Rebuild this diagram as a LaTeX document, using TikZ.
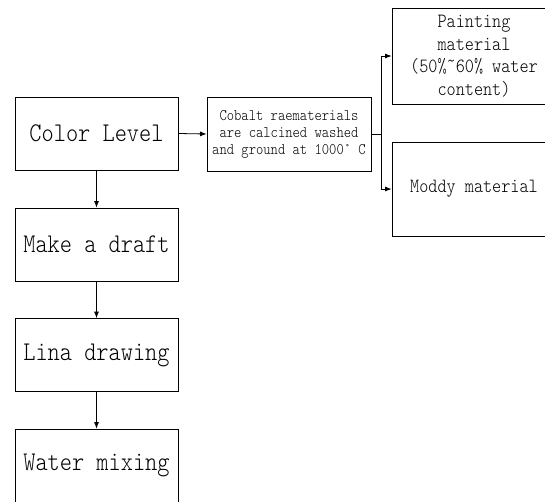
\documentclass[tikz,border=0pt]{standalone}
\usepackage{fontspec}
\newfontfamily\mono{lmmonolt10-regular.otf}[FakeStretch=0.86]
\usetikzlibrary{arrows.meta}
\tikzset{
  box/.style={draw, line width=0.8pt, inner sep=0pt, align=center, font=\mono},
  bigbox/.style={box, minimum width=163pt, minimum height=73pt, font=\mono\fontsize{27}{29}\selectfont},
  midbox/.style={box, minimum width=164pt, minimum height=74pt, font=\mono\fontsize{16.2}{17}\selectfont},
  sidebox/.style={box, minimum width=164pt, font=\mono\fontsize{20.2}{22.6}\selectfont},
  arr/.style={line width=0.8pt, -{Latex[length=6.5pt,width=5pt]}},
  ln/.style={line width=0.8pt}
}
\begin{document}
\begin{tikzpicture}[x=1pt,y=-1pt]
\useasboundingbox (0,0) rectangle (545,501);
\clip (0,0) rectangle (545,501);
\node[bigbox] (color) at (96.5,133.5) {Color Level};
\node[bigbox] (draft) at (96.5,244.5) {Make a draft};
\node[bigbox] (lina) at (96.5,355) {Lina drawing};
\node[bigbox] (water) at (96.5,465.5) {Water mixing};
\node[midbox] (cobalt) at (289,134) {Cobalt raematerials\\are calcined washed\\and ground at 1000° C};
\node[sidebox, minimum height=96pt] (paint) at (474,56) {Painting\\material\\(50\%˜60\% water\\content)};
\node[sidebox, minimum height=94pt] (moddy) at (474,189) {Moddy material};
\draw[arr] (color) -- (draft);
\draw[arr] (draft) -- (lina);
\draw[arr] (lina) -- (water);
\draw[arr] (color.east) -- (cobalt.west);
\draw[ln] (cobalt.east) -- ++(10,0) coordinate (j);
\draw[arr] (j) |- (paint.west);
\draw[arr] (j) |- (moddy.west);
\end{tikzpicture}
\end{document}
